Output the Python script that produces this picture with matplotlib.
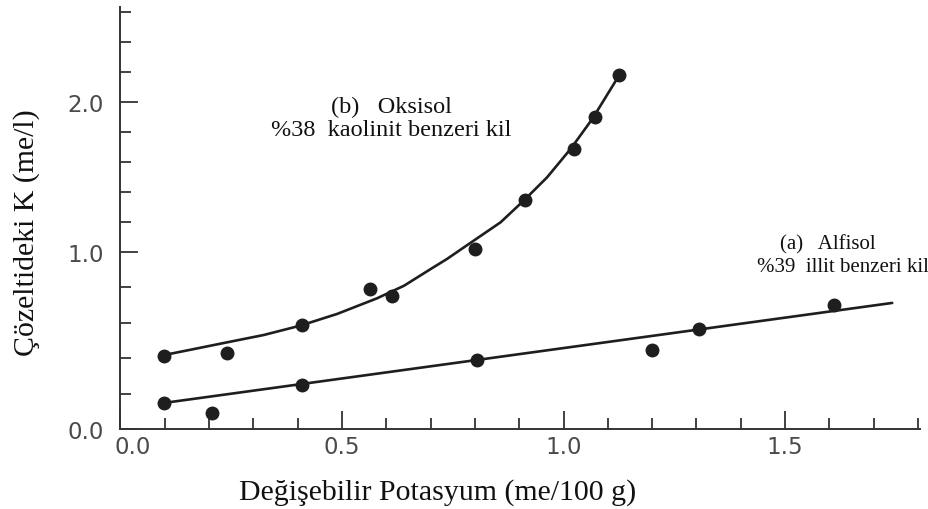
import numpy as np
import matplotlib
matplotlib.use("Agg")
import matplotlib.pyplot as plt
from matplotlib.ticker import FixedLocator, NullFormatter
from matplotlib.transforms import ScaledTranslation

# (b) Oksisol - measured points
oks_x = [0.098, 0.241, 0.409, 0.563, 0.612, 0.801, 0.914, 1.023, 1.072, 1.125]
oks_y = [0.413, 0.427, 0.587, 0.788, 0.748, 1.018, 1.347, 1.685, 1.900, 2.178]

# (b) Oksisol - drawn trend curve
oks_curve_x = [0.098, 0.158, 0.241, 0.323, 0.406, 0.489, 0.579, 0.640, 0.700,
               0.737, 0.797, 0.858, 0.910, 0.963, 1.016, 1.065, 1.095, 1.125]
oks_curve_y = [0.417, 0.447, 0.489, 0.530, 0.583, 0.649, 0.737, 0.808, 0.902,
               0.959, 1.073, 1.196, 1.340, 1.496, 1.685, 1.885, 2.029, 2.173]

# (a) Alfisol - measured points and fitted line
alf_x = [0.098, 0.207, 0.409, 0.805, 1.200, 1.305, 1.610]
alf_y = [0.147, 0.089, 0.250, 0.389, 0.447, 0.564, 0.699]
alf_line_x = [0.098, 1.742]
alf_line_y = [0.147, 0.711]

x_major = [0.0, 0.5, 1.0, 1.5]
x_minor = [0.1, 0.2, 0.3, 0.4, 0.6, 0.7, 0.8, 0.9, 1.1, 1.2, 1.3, 1.4, 1.6, 1.7, 1.8]
y_major = [0.0, 1.0, 2.0]
y_minor = [0.2, 0.4, 0.6, 0.8, 1.2, 1.4, 1.6, 1.8, 2.2, 2.4, 2.6]

# the printed y axis is stretched below 1.0
K = 1.182


def forward(y):
    y = np.asarray(y, dtype=float)
    return np.where(y <= 1, y * K, K + (y - 1))


def inverse(t):
    t = np.asarray(t, dtype=float)
    return np.where(t <= K, t / K, 1 + (t - K))


ink = "#1e1e1e"
axis_col = "#333333"
tick_col = "#4a4a4a"

fig = plt.figure(figsize=(9.29, 5.10), dpi=100)
W, H = 929, 510
ax = fig.add_axes([120.5 / W, 80 / H, (1.805 * 443) / W, 421.8 / H])

ax.set_yscale("function", functions=(forward, inverse))
ax.set_xlim(0, 1.805)
ax.set_ylim(0, 2.63)

ax.plot(oks_curve_x, oks_curve_y, color=ink, lw=1.9, solid_capstyle="round",
        solid_joinstyle="round")
ax.plot(alf_line_x, alf_line_y, color=ink, lw=1.9, solid_capstyle="round")
ax.plot(oks_x, oks_y, "o", color=ink, ms=9, mec=ink)
ax.plot(alf_x, alf_y, "o", color=ink, ms=9, mec=ink)

for side in ["top", "right"]:
    ax.spines[side].set_visible(False)
for side in ["left", "bottom"]:
    ax.spines[side].set_linewidth(1.4)
    ax.spines[side].set_color(axis_col)

ax.xaxis.set_major_locator(FixedLocator(x_major))
ax.xaxis.set_minor_locator(FixedLocator(x_minor))
ax.yaxis.set_major_locator(FixedLocator(y_major))
ax.yaxis.set_minor_locator(FixedLocator(y_minor))
ax.xaxis.set_minor_formatter(NullFormatter())
ax.yaxis.set_minor_formatter(NullFormatter())
ax.set_xticklabels([f"{v:.1f}" for v in x_major])
ax.set_yticklabels([f"{v:.1f}" for v in y_major])

ax.tick_params(which="both", direction="in", color=axis_col, width=1.3)
ax.tick_params(which="major", length=13)
ax.tick_params(which="minor", length=8)
ax.tick_params(axis="x", which="major", pad=4, labelsize=16.5, labelcolor=tick_col)
ax.tick_params(axis="y", which="major", pad=12, labelsize=16.5, labelcolor=tick_col)

for lab in ax.get_xticklabels() + ax.get_yticklabels():
    lab.set_fontfamily("DejaVu Sans")

# the first x label sits a little right of the corner
first = ax.get_xticklabels()[0]
first.set_transform(first.get_transform() + ScaledTranslation(0.12, 0, fig.dpi_scale_trans))

serif = "Liberation Serif"
fig.text(391 / W, 1 - 107 / H, "(b)   Oksisol", family=serif, fontsize=17.5,
         ha="center", va="center", color="#111111")
fig.text(391 / W, 1 - 131 / H, "%38  kaolinit benzeri kil", family=serif, fontsize=17.5,
         ha="center", va="center", color="#111111")
fig.text(828 / W, 1 - 245 / H, "(a)   Alfisol", family=serif, fontsize=15,
         ha="center", va="center", color="#111111")
fig.text(843 / W, 1 - 267 / H, "%39  illit benzeri kil", family=serif, fontsize=15,
         ha="center", va="center", color="#111111")

fig.text(438 / W, 1 - 493 / H, "Değişebilir Potasyum (me/100 g)", family=serif,
         fontsize=21.5, ha="center", va="center", color="#111111")
fig.text(27 / W, 1 - 233 / H, "Çözeltideki K (me/l)", family=serif,
         fontsize=21.5, ha="center", va="center", rotation=90, color="#111111")

fig.savefig("out.png", dpi=100)
